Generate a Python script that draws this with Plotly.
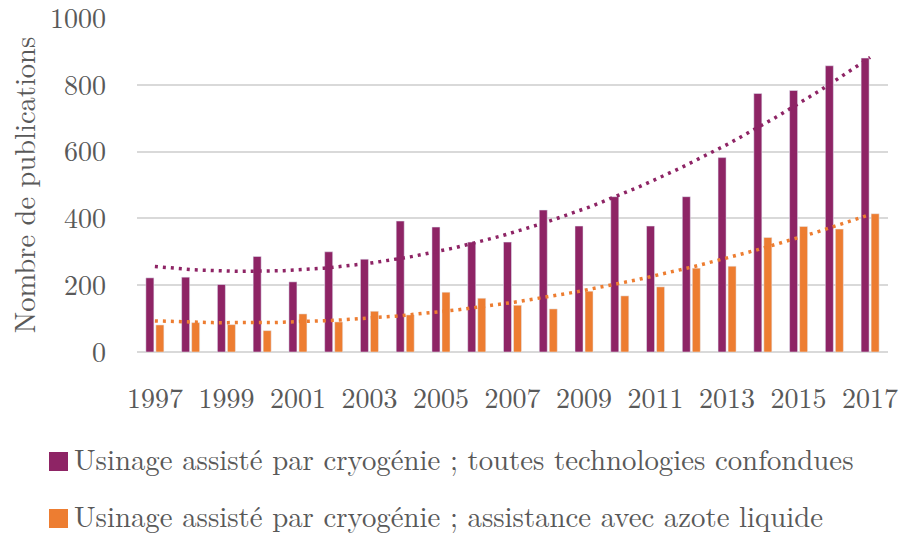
import numpy as np
import plotly.graph_objects as go

years = list(range(1997, 2018))
tick_years = list(range(1997, 2018, 2))
all_tech = [222, 224, 202, 286, 210, 300, 278, 392, 374, 329, 329, 425, 377, 465, 377, 465, 582, 774, 783, 857, 880]
azote = [81, 88, 82, 64, 114, 90, 122, 111, 179, 161, 140, 129, 182, 168, 195, 251, 257, 343, 376, 368, 414]
name_all = "Usinage assisté par cryogénie ; toutes technologies confondues"
name_azote = "Usinage assisté par cryogénie ; assistance avec azote liquide"

PURPLE = "#8E2465"
ORANGE = "#ED7D31"
GRAY = "#595959"
FONT = "Latin Modern Roman"

W, H = 901, 534
ML, MR, MT, MB = 137, 13, 18, 182
PW, PH = W - ML - MR, H - MT - MB


def px_x(p):
    return (p - ML) / PW


def px_y(p):
    return (H - MB - p) / PH


fig = go.Figure()
fig.add_trace(go.Bar(x=years, y=all_tech, name=name_all, marker_color=PURPLE, showlegend=False))
fig.add_trace(go.Bar(x=years, y=azote, name=name_azote, marker_color=ORANGE, showlegend=False))

# polynomial (order 2) trendlines fitted on the data, like the spreadsheet
xs = np.linspace(years[0], years[-1], 200)
for vals, col in ((all_tech, PURPLE), (azote, ORANGE)):
    c = np.polyfit(np.array(years) - years[0], vals, 2)
    fig.add_trace(go.Scatter(x=xs, y=np.polyval(c, xs - years[0]), mode="lines",
                             line=dict(color=col, width=3.5, dash="3px,5px"),
                             showlegend=False, hoverinfo="skip"))

# legend drawn below the chart
for i, (nm, col) in enumerate(((name_all, PURPLE), (name_azote, ORANGE))):
    cy = 461.5 + i * 57
    fig.add_shape(type="rect", xref="paper", yref="paper",
                  x0=px_x(49), x1=px_x(68), y0=px_y(cy + 9.5), y1=px_y(cy - 9.5),
                  fillcolor=col, line_width=0)
    fig.add_annotation(xref="paper", yref="paper", x=px_x(73), y=px_y(cy - 4), xanchor="left",
                       yanchor="middle", showarrow=False, text=nm, borderpad=0,
                       font=dict(family=FONT, size=28.8, color=GRAY))

fig.update_layout(
    width=W, height=H,
    margin=dict(l=ML, r=MR, t=MT, b=MB),
    paper_bgcolor="white", plot_bgcolor="white",
    font=dict(family=FONT, size=28, color=GRAY),
    barmode="group", bargap=0.44, bargroupgap=0.2,
    showlegend=False,
)
fig.update_xaxes(range=[1996.5, 2017.5], tickmode="array", tickvals=tick_years,
                 ticktext=[str(y) for y in tick_years], showgrid=False, zeroline=False,
                 showline=False, ticks="", ticklabelstandoff=27, automargin=False,
                 ticklabeloverflow="allow")
fig.update_yaxes(range=[0, 1000], tickvals=[0, 200, 400, 600, 800, 1000], showgrid=True,
                 gridcolor="#D9D9D9", gridwidth=1.5, zeroline=True, zerolinecolor="#D9D9D9",
                 zerolinewidth=1.5, showline=False, ticks="", ticklabelstandoff=30,
                 automargin=False, ticklabeloverflow="allow",
                 title=dict(text="Nombre de publications", standoff=6,
                            font=dict(family=FONT, size=28.5, color=GRAY)))

fig.write_html("out.html", config={"displayModeBar": False},
               post_script="document.body.style.margin='0';")
